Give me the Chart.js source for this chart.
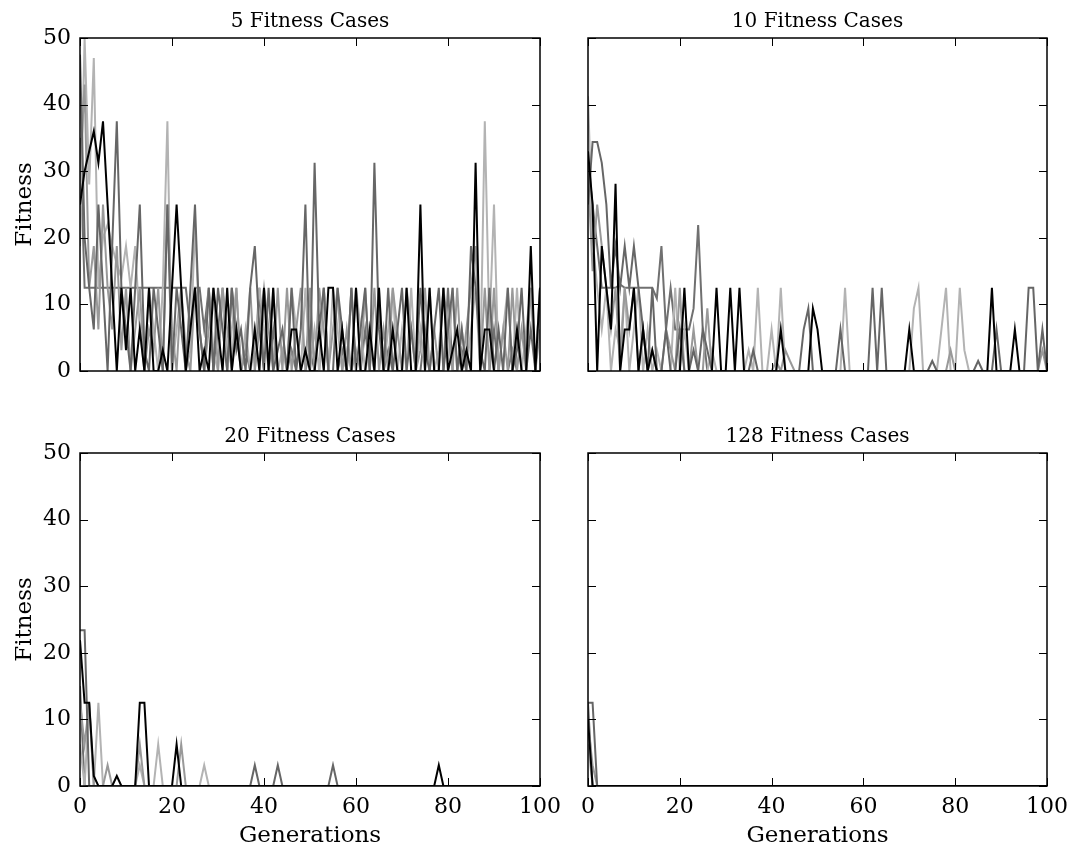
<!DOCTYPE html>
<html>
<head>
<meta charset="utf-8">
<script src="https://cdn.jsdelivr.net/npm/chart.js@4.4.1/dist/chart.umd.min.js"></script>
<style>
  body { margin: 0; background: #fff; }
  #wrap { position: relative; width: 1067px; height: 852px; }
  canvas { position: absolute; }
</style>
</head>
<body>
<div id="wrap">
  <canvas id="c5" width="560" height="415" style="left:0;top:0"></canvas>
  <canvas id="c10" width="507" height="415" style="left:560px;top:0"></canvas>
  <canvas id="c20" width="560" height="437" style="left:0;top:415px"></canvas>
  <canvas id="c128" width="507" height="437" style="left:560px;top:415px"></canvas>
</div>
<script>
// generation index 0..100 (x axis)
var gens = [];
for (var g = 0; g <= 100; g++) gens.push(g);

var seriesColors = ["#000000", "#666666", "#999999", "#b3b3b3", "#707070"];

// ---- 5 fitness cases ----
var f5_s1 = [25,30,33,36,31.25,37.5,25,12.5,0,12.5,
  3.125,12.5,0,6.25,0,12.5,0,0,3.125,0,
  12.5,25,12.5,0,6.25,12.5,0,3.125,0,12.5,
  6.25,0,12.5,0,6.25,0,0,0,6.25,0,
  12.5,0,12.5,0,0,0,6.25,6.25,0,3.125,
  0,0,6.25,0,12.5,12.5,0,6.25,0,0,
  12.5,0,0,6.25,0,12.5,0,0,6.25,0,
  0,12.5,0,0,25,0,12.5,0,0,12.5,
  0,3.125,6.25,0,3.125,0,31.25,0,6.25,6.25,
  0,0,0,0,0,6.25,0,0,18.75,0,
  12.5];
var f5_s2 = [47.5,20,12.5,6.25,25,12.5,0,18.75,37.5,12.5,
  6.25,0,12.5,25,3.125,0,12.5,6.25,0,25,
  0,12.5,6.25,0,12.5,25,6.25,0,12.5,0,
  12.5,6.25,0,12.5,3.125,6.25,0,12.5,18.75,6.25,
  0,12.5,0,3.125,6.25,0,12.5,0,6.25,25,
  0,31.25,6.25,12.5,0,0,12.5,6.25,0,12.5,
  0,6.25,12.5,0,31.25,6.25,0,12.5,0,6.25,
  12.5,0,6.25,0,12.5,3.125,0,6.25,12.5,0,
  6.25,12.5,0,6.25,0,18.75,12.5,3.125,0,12.5,
  0,6.25,0,12.5,0,3.125,12.5,0,6.25,0,
  0];
var f5_s3 = [30,43,12.5,18.75,6.25,25,12.5,6.25,18.75,3.125,
  12.5,0,6.25,12.5,0,6.25,3.125,12.5,0,25,
  6.25,0,12.5,3.125,0,12.5,6.25,0,6.25,12.5,
  0,12.5,6.25,0,12.5,0,3.125,12.5,0,6.25,
  12.5,6.25,0,12.5,0,12.5,0,6.25,12.5,0,
  12.5,0,12.5,6.25,0,6.25,12.5,0,6.25,0,
  3.125,0,12.5,0,12.5,0,6.25,0,12.5,6.25,
  0,12.5,6.25,0,3.125,12.5,0,6.25,0,12.5,
  6.25,0,12.5,0,6.25,12.5,18.75,0,12.5,0,
  12.5,0,6.25,0,12.5,0,6.25,0,12.5,0,
  6.25];
var f5_s4 = [18.75,50,28,47,12.5,20,22,18.75,16,14,
  18.75,12.5,18.75,6.25,0,12.5,6.25,0,12.5,37.5,
  0,6.25,12.5,0,3.125,21.9,6.25,0,12.5,3.125,
  0,12.5,0,6.25,12.5,0,6.25,0,3.125,12.5,
  6.25,0,12.5,0,3.125,0,12.5,6.25,0,12.5,
  0,6.25,0,12.5,0,12.5,6.25,0,3.125,0,
  12.5,6.25,0,3.125,0,12.5,0,6.25,12.5,0,
  6.25,0,12.5,0,6.25,0,12.5,0,3.125,12.5,
  0,12.5,0,6.25,0,6.25,12.5,0,37.5,6.25,
  25,0,6.25,12.5,0,12.5,0,6.25,12.5,0,
  12.5];
var f5_s5 = [35,12.5,12.5,12.5,12.5,12.5,12.5,12.5,12.5,12.5,
  12.5,12.5,12.5,12.5,12.5,12.5,12.5,12.5,12.5,12.5,
  12.5,12.5,12.5,12.5,6.25,12.5,12.5,6.25,12.5,0,
  6.25,12.5,0,12.5,6.25,0,3.125,0,0,12.5,
  0,0,6.25,0,0,0,3.125,0,0,0,
  3.125,0,0,12.5,0,0,0,3.125,0,12.5,
  0,0,6.25,0,0,0,0,3.125,0,0,
  0,0,0,0,0,6.25,0,0,0,0,
  12.5,0,0,3.125,0,0,0,0,0,0,
  6.25,0,0,0,3.125,0,0,0,0,0,
  12.5];

// ---- 10 fitness cases ----
var f10_s1 = [33,25,0,18.75,12.5,6.25,28.1,0,6.25,6.25,
  12.5,0,6.25,0,3.125,0,0,0,0,0,
  0,12.5,0,0,0,0,0,0,12.5,0,
  0,12.5,0,12.5,0,0,0,0,0,0,
  0,0,6.25,0,0,0,0,0,0,9.4,
  6.25,0,0,0,0,0,0,0,0,0,
  0,0,0,0,0,0,0,0,0,0,
  6.25,0,0,0,0,0,0,0,0,0,
  0,0,0,0,0,0,0,0,12.5,0,
  0,0,0,6.25,0,0,0,0,0,0,
  0];
var f10_s2 = [25,34.4,34.4,31.25,25,12.5,18.75,12.5,18.75,12.5,
  18.75,12.5,6.25,0,12.5,0,0,6.25,0,0,
  6.25,0,0,3.125,0,6.25,3.125,0,0,0,
  0,0,0,0,0,0,3.125,0,0,0,
  0,0,0,0,0,0,0,6.25,9.4,0,
  0,0,0,0,0,6.25,0,0,0,0,
  0,0,12.5,0,12.5,0,0,0,0,0,
  0,0,0,0,0,1.5,0,0,0,0,
  0,0,0,0,0,1.5,0,0,0,6.25,
  0,0,0,0,0,0,12.5,12.5,0,6.25,
  0];
var f10_s3 = [30,15,25,18.75,12.5,6.25,12.5,0,12.5,6.25,
  12.5,0,6.25,0,3.125,0,0,6.25,3.125,0,
  12.5,0,0,6.25,0,0,9.4,0,0,0,
  0,0,0,0,0,0,0,0,0,0,
  0,1.5,0,3.125,1.5,0,0,0,0,0,
  0,0,0,0,0,0,0,0,0,0,
  0,0,0,0,0,0,0,0,0,0,
  0,0,0,0,0,0,0,0,0,3.125,
  0,0,0,0,0,0,0,0,0,0,
  0,0,0,0,0,0,0,0,0,3.125,
  0];
var f10_s4 = [41.25,20,12.5,6.25,12.5,0,6.25,3.125,12.5,0,
  6.25,12.5,0,6.25,0,3.125,0,0,0,12.5,
  0,6.25,0,0,0,0,0,3.125,0,0,
  0,0,0,0,0,3.125,0,12.5,0,0,
  6.25,0,12.5,0,0,0,0,0,0,0,
  0,0,0,0,0,0,12.5,0,0,0,
  0,0,0,0,0,0,0,0,0,0,
  0,9.4,12.5,0,0,0,0,6.25,12.5,0,
  0,12.5,3.125,0,0,0,0,0,0,0,
  0,0,0,0,0,0,0,0,0,0,
  0];
var f10_s5 = [31.25,25,18.75,12.5,12.5,12.5,12.5,13,12.5,12.5,
  12.5,12.5,12.5,12.5,12.5,10.9,18.75,6.25,12.5,6.25,
  6.25,6.25,6.25,9.4,21.9,6.25,0,0,0,0,
  0,0,0,0,0,0,0,0,0,0,
  0,0,0,0,0,0,0,0,0,0,
  0,0,0,0,0,0,0,0,0,0,
  0,0,0,0,0,0,0,0,0,0,
  0,0,0,0,0,0,0,0,0,0,
  0,0,0,0,0,0,0,0,0,0,
  0,0,0,0,0,0,0,0,0,0,
  0];

// ---- 20 fitness cases ----
var f20_s1 = [21.9,12.5,12.5,1.5,0,0,0,0,1.5,0,
  0,0,0,12.5,12.5,0,0,0,0,0,
  0,6.25,0,0,0,0,0,0,0,0,
  0,0,0,0,0,0,0,0,0,0,
  0,0,0,0,0,0,0,0,0,0,
  0,0,0,0,0,0,0,0,0,0,
  0,0,0,0,0,0,0,0,0,0,
  0,0,0,0,0,0,0,0,3.125,0,
  0,0,0,0,0,0,0,0,0,0,
  0,0,0,0,0,0,0,0,0,0,
  0];
var f20_s2 = [23.4,23.4,0,0,0,0,0,0,0,0,
  0,0,0,0,0,0,0,0,0,0,
  0,0,0,0,0,0,0,0,0,0,
  0,0,0,0,0,0,0,0,3.125,0,
  0,0,0,3.125,0,0,0,0,0,0,
  0,0,0,0,0,3.125,0,0,0,0,
  0,0,0,0,0,0,0,0,0,0,
  0,0,0,0,0,0,0,0,0,0,
  0,0,0,0,0,0,0,0,0,0,
  0,0,0,0,0,0,0,0,0,0,
  0];
var f20_s3 = [12.5,6.25,12.5,0,0,0,3.125,0,0,0,
  0,0,0,6.25,0,0,0,0,0,0,
  0,0,6.25,0,0,0,0,0,0,0,
  0,0,0,0,0,0,0,0,0,0,
  0,0,0,0,0,0,0,0,0,0,
  0,0,0,0,0,0,0,0,0,0,
  0,0,0,0,0,0,0,0,0,0,
  0,0,0,0,0,0,0,0,0,0,
  0,0,0,0,0,0,0,0,0,0,
  0,0,0,0,0,0,0,0,0,0,
  0];
var f20_s4 = [6.25,0,12.5,0,12.5,0,0,0,0,0,
  0,0,0,3.125,0,0,0,6.25,0,0,
  0,0,0,0,0,0,0,3.125,0,0,
  0,0,0,0,0,0,0,0,0,0,
  0,0,0,0,0,0,0,0,0,0,
  0,0,0,0,0,0,0,0,0,0,
  0,0,0,0,0,0,0,0,0,0,
  0,0,0,0,0,0,0,0,0,0,
  0,0,0,0,0,0,0,0,0,0,
  0,0,0,0,0,0,0,0,0,0,
  0];
var f20_s5 = [15,0,0,0,0,0,0,0,0,0,
  0,0,0,0,0,0,0,0,0,0,
  0,0,0,0,0,0,0,0,0,0,
  0,0,0,0,0,0,0,0,0,0,
  0,0,0,0,0,0,0,0,0,0,
  0,0,0,0,0,0,0,0,0,0,
  0,0,0,0,0,0,0,0,0,0,
  0,0,0,0,0,0,0,0,0,0,
  0,0,0,0,0,0,0,0,0,0,
  0,0,0,0,0,0,0,0,0,0,
  0];

// ---- 128 fitness cases ----
var f128_s1 = [10,0,0,0,0,0,0,0,0,0,
  0,0,0,0,0,0,0,0,0,0,
  0,0,0,0,0,0,0,0,0,0,
  0,0,0,0,0,0,0,0,0,0,
  0,0,0,0,0,0,0,0,0,0,
  0,0,0,0,0,0,0,0,0,0,
  0,0,0,0,0,0,0,0,0,0,
  0,0,0,0,0,0,0,0,0,0,
  0,0,0,0,0,0,0,0,0,0,
  0,0,0,0,0,0,0,0,0,0,
  0];
var f128_s2 = [12.5,12.5,0,0,0,0,0,0,0,0,
  0,0,0,0,0,0,0,0,0,0,
  0,0,0,0,0,0,0,0,0,0,
  0,0,0,0,0,0,0,0,0,0,
  0,0,0,0,0,0,0,0,0,0,
  0,0,0,0,0,0,0,0,0,0,
  0,0,0,0,0,0,0,0,0,0,
  0,0,0,0,0,0,0,0,0,0,
  0,0,0,0,0,0,0,0,0,0,
  0,0,0,0,0,0,0,0,0,0,
  0];
var f128_s3 = [9.4,3.125,0,0,0,0,0,0,0,0,
  0,0,0,0,0,0,0,0,0,0,
  0,0,0,0,0,0,0,0,0,0,
  0,0,0,0,0,0,0,0,0,0,
  0,0,0,0,0,0,0,0,0,0,
  0,0,0,0,0,0,0,0,0,0,
  0,0,0,0,0,0,0,0,0,0,
  0,0,0,0,0,0,0,0,0,0,
  0,0,0,0,0,0,0,0,0,0,
  0,0,0,0,0,0,0,0,0,0,
  0];
var f128_s4 = [6.25,0,0,0,0,0,0,0,0,0,
  0,0,0,0,0,0,0,0,0,0,
  0,0,0,0,0,0,0,0,0,0,
  0,0,0,0,0,0,0,0,0,0,
  0,0,0,0,0,0,0,0,0,0,
  0,0,0,0,0,0,0,0,0,0,
  0,0,0,0,0,0,0,0,0,0,
  0,0,0,0,0,0,0,0,0,0,
  0,0,0,0,0,0,0,0,0,0,
  0,0,0,0,0,0,0,0,0,0,
  0];
var f128_s5 = [12.5,0,0,0,0,0,0,0,0,0,
  0,0,0,0,0,0,0,0,0,0,
  0,0,0,0,0,0,0,0,0,0,
  0,0,0,0,0,0,0,0,0,0,
  0,0,0,0,0,0,0,0,0,0,
  0,0,0,0,0,0,0,0,0,0,
  0,0,0,0,0,0,0,0,0,0,
  0,0,0,0,0,0,0,0,0,0,
  0,0,0,0,0,0,0,0,0,0,
  0,0,0,0,0,0,0,0,0,0,
  0];

Chart.defaults.font.family = "'DejaVu Serif', serif";
Chart.defaults.font.size = 22;
Chart.defaults.color = "#000";

// box round the axes plus inward ticks on all four sides
var frame = {
  id: "frame",
  afterDatasetsDraw: function(chart) {
    var ctx = chart.ctx, a = chart.chartArea;
    var xs = chart.scales.x, ys = chart.scales.y;
    ctx.save();
    ctx.strokeStyle = "#000";
    ctx.lineWidth = 1;
    ctx.beginPath();
    xs.ticks.forEach(function(t) {
      var px = Math.round(xs.getPixelForValue(t.value)) + 0.5;
      ctx.moveTo(px, a.bottom); ctx.lineTo(px, a.bottom - 8);
      ctx.moveTo(px, a.top); ctx.lineTo(px, a.top + 8);
    });
    ys.ticks.forEach(function(t) {
      var py = Math.round(ys.getPixelForValue(t.value)) + 0.5;
      ctx.moveTo(a.left, py); ctx.lineTo(a.left + 8, py);
      ctx.moveTo(a.right, py); ctx.lineTo(a.right - 8, py);
    });
    ctx.stroke();
    ctx.lineWidth = 1.5;
    ctx.strokeRect(a.left, a.top, a.right - a.left, a.bottom - a.top);
    ctx.restore();
  }
};

function makeChart(id, title, series, showX, showY) {
  var datasets = [];
  for (var i = 0; i < series.length; i++) {
    var pts = series[i].map(function(v, k) { return {x: gens[k], y: v}; });
    datasets.push({
      data: pts,
      borderColor: seriesColors[i],
      borderWidth: 2,
      pointRadius: 0,
      tension: 0,
      fill: false
    });
  }
  return new Chart(document.getElementById(id), {
    type: "line",
    data: {datasets: datasets},
    options: {
      responsive: false,
      animation: false,
      devicePixelRatio: 1,
      layout: {padding: {left: 0, right: 20, top: 0, bottom: 0}},
      plugins: {
        legend: {display: false},
        tooltip: {enabled: false},
        title: {
          display: true,
          text: title,
          fullSize: false,
          font: {size: 20, weight: "normal"},
          padding: {top: 10, bottom: 4}
        }
      },
      scales: {
        x: {
          type: "linear",
          min: 0, max: 100,
          grid: {display: false, drawTicks: false},
          border: {display: false},
          ticks: {display: showX, stepSize: 20, padding: 8, maxRotation: 0},
          title: {display: showX, text: "Generations", font: {size: 23}, padding: {top: 4, bottom: 2}},
          afterFit: function(s) {
            s.height = showX ? 66 : 44;
            s.paddingLeft = 0; s.paddingRight = 0;
          }
        },
        y: {
          min: 0, max: 50,
          grid: {display: false, drawTicks: false},
          border: {display: false},
          ticks: {display: showY, stepSize: 10, padding: 9},
          title: {display: showY, text: "Fitness", font: {size: 23}, padding: {top: 11, bottom: 4}},
          afterFit: function(s) {
            s.width = showY ? 80 : 28;
            s.paddingTop = 0; s.paddingBottom = 0;
          }
        }
      }
    },
    plugins: [frame]
  });
}

makeChart("c5", "5 Fitness Cases", [f5_s1, f5_s2, f5_s3, f5_s4, f5_s5], false, true);
makeChart("c10", "10 Fitness Cases", [f10_s1, f10_s2, f10_s3, f10_s4, f10_s5], false, false);
makeChart("c20", "20 Fitness Cases", [f20_s1, f20_s2, f20_s3, f20_s4, f20_s5], true, true);
makeChart("c128", "128 Fitness Cases", [f128_s1, f128_s2, f128_s3, f128_s4, f128_s5], true, false);
</script>
</body>
</html>
